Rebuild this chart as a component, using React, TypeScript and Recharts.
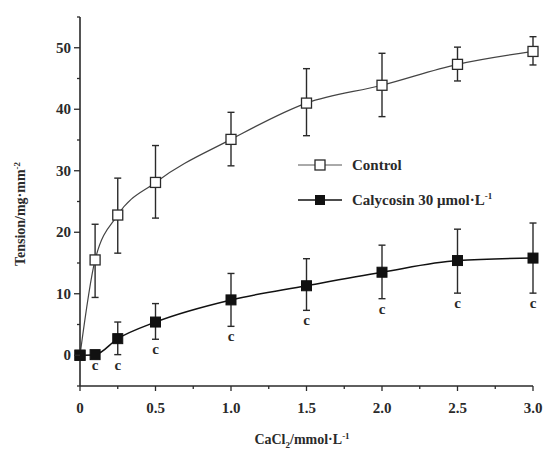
import React from "react";
import {
  ComposedChart,
  Line,
  XAxis,
  YAxis,
  ErrorBar,
  LabelList,
} from "recharts";

const conc = [0, 0.1, 0.25, 0.5, 1.0, 1.5, 2.0, 2.5, 3.0];
const controlMean = [0, 15.5, 22.8, 28.1, 35.1, 41.0, 43.9, 47.3, 49.4];
const controlLow = [0, 9.4, 16.6, 22.3, 30.8, 35.7, 38.8, 44.6, 47.2];
const controlHigh = [0, 21.3, 28.8, 34.1, 39.5, 46.6, 49.1, 50.1, 51.8];
const calyMean = [0, 0.1, 2.7, 5.4, 9.0, 11.3, 13.5, 15.4, 15.8];
const calyLow = [0, 0, 0.1, 2.6, 4.7, 7.3, 9.2, 10.1, 10.1];
const calyHigh = [0, 0, 5.4, 8.4, 13.3, 15.7, 17.9, 20.5, 21.5];
const sigLabels = ["", "c", "c", "c", "c", "c", "c", "c", "c"];

const xTicks = [0, 0.25, 0.5, 0.75, 1.0, 1.25, 1.5, 1.75, 2.0, 2.25, 2.5, 2.75, 3.0];
const xMajor = [0, 0.5, 1.0, 1.5, 2.0, 2.5, 3.0];
const yTicks = [-5, 0, 5, 10, 15, 20, 25, 30, 35, 40, 45, 50, 55];
const yMajor = [0, 10, 20, 30, 40, 50];

const data = conc.map((c, i) => ({
  x: c,
  control: controlMean[i],
  controlErr: [controlMean[i] - controlLow[i], controlHigh[i] - controlMean[i]],
  caly: calyMean[i],
  calyErr: [calyMean[i] - calyLow[i], calyHigh[i] - calyMean[i]],
  calyLow: calyLow[i],
  sig: sigLabels[i],
}));

const FONT = '"Liberation Serif", "Times New Roman", serif';
const INK = "#2a2a2a";

const XTick = (props: any) => {
  const { x, y, payload } = props;
  const v = payload.value;
  const major = xMajor.some((m) => Math.abs(m - v) < 1e-6);
  return (
    <g>
      <line x1={x} y1={y} x2={x} y2={y + (major ? 5 : 3)} stroke={INK} strokeWidth={1.3} />
      {major && (
        <text x={x} y={y + 27} textAnchor="middle" fontFamily={FONT} fontWeight="bold" fontSize={15} fill={INK}>
          {v === 0 ? "0" : v.toFixed(1)}
        </text>
      )}
    </g>
  );
};

const YTick = (props: any) => {
  const { x, y, payload } = props;
  const v = payload.value;
  const major = yMajor.includes(v);
  return (
    <g>
      <line x1={x} y1={y} x2={x - (major ? 6 : 3)} y2={y} stroke={INK} strokeWidth={1.3} />
      {major && (
        <text x={x - 9} y={y + 5} textAnchor="end" fontFamily={FONT} fontWeight="bold" fontSize={15} fill={INK}>
          {v}
        </text>
      )}
    </g>
  );
};

const openSquare = (props: any) => {
  const { cx, cy, index } = props;
  if (cx == null || cy == null) return <g key={`o${index}`} />;
  return (
    <rect key={`o${index}`} x={cx - 5} y={cy - 5} width={10} height={10} fill="#fff" stroke={INK} strokeWidth={1.3} />
  );
};

const filledSquare = (props: any) => {
  const { cx, cy, index } = props;
  if (cx == null || cy == null) return <g key={`f${index}`} />;
  return <rect key={`f${index}`} x={cx - 5} y={cy - 5} width={10} height={10} fill="#111" stroke="#111" strokeWidth={1} />;
};

const SigLabel = (props: any) => {
  const { x, y, value } = props;
  if (!value) return null;
  return (
    <text x={x} y={y + 15} textAnchor="middle" fontFamily={FONT} fontWeight="bold" fontSize={15} fill={INK}>
      {value}
    </text>
  );
};

export default function App() {
  return (
    <div style={{ position: "absolute", left: 0, top: 0, width: 546, height: 452, background: "#fff" }}>
      <ComposedChart width={546} height={452} data={data} margin={{ top: 17, right: 13, left: 0, bottom: 0 }}>
        <XAxis
          dataKey="x"
          type="number"
          domain={[0, 3]}
          ticks={xTicks}
          interval={0}
          height={66}
          tickSize={0}
          tickMargin={0}
          tickLine={false}
          tick={<XTick />}
          axisLine={{ stroke: INK, strokeWidth: 1.6 }}
        />
        <YAxis
          type="number"
          domain={[-5, 55]}
          ticks={yTicks}
          interval={0}
          width={80}
          tickSize={0}
          tickMargin={0}
          tickLine={false}
          tick={<YTick />}
          axisLine={{ stroke: INK, strokeWidth: 1.6 }}
        />
        <Line
          dataKey="control"
          type="monotone"
          stroke="#444"
          strokeWidth={1.2}
          dot={openSquare}
          activeDot={false}
          isAnimationActive={false}
        >
          <ErrorBar dataKey="controlErr" direction="y" width={3.5} stroke={INK} strokeWidth={1.4} />
        </Line>
        <Line
          dataKey="caly"
          type="monotone"
          stroke="#111"
          strokeWidth={1.5}
          dot={filledSquare}
          activeDot={false}
          isAnimationActive={false}
        >
          <ErrorBar dataKey="calyErr" direction="y" width={3.5} stroke={INK} strokeWidth={1.4} />
        </Line>
        <Line
          dataKey="calyLow"
          stroke="none"
          dot={false}
          activeDot={false}
          legendType="none"
          isAnimationActive={false}
        >
          <LabelList dataKey="sig" content={<SigLabel />} />
        </Line>
        <g>
          <line x1={298} y1={165} x2={342} y2={165} stroke="#555" strokeWidth={1} />
          <rect x={315} y={160} width={10} height={10} fill="#fff" stroke={INK} strokeWidth={1.3} />
          <text x={352} y={170} fontFamily={FONT} fontWeight="bold" fontSize={15} fill={INK}>
            Control
          </text>
          <line x1={298} y1={200} x2={342} y2={200} stroke="#111" strokeWidth={1.6} />
          <rect x={315} y={195} width={10} height={10} fill="#111" />
          <text x={352} y={205} fontFamily={FONT} fontWeight="bold" fontSize={15} fill={INK}>
            Calycosin 30 μmol·L
            <tspan fontSize={9} dy={-6}>-1</tspan>
          </text>
        </g>
        <text x={302} y={444} textAnchor="middle" fontFamily={FONT} fontWeight="bold" fontSize={14} fill={INK}>
          CaCl
          <tspan fontSize={9} dy={4}>2</tspan>
          <tspan dy={-4}>/mmol·L</tspan>
          <tspan fontSize={9} dy={-5}>-1</tspan>
        </text>
        <text
          x={25}
          y={214}
          textAnchor="middle"
          transform="rotate(-90, 25, 214)"
          fontFamily={FONT}
          fontWeight="bold"
          fontSize={14}
          fill={INK}
        >
          Tension/mg·mm
          <tspan fontSize={9} dy={-5}>-2</tspan>
        </text>
      </ComposedChart>
    </div>
  );
}
